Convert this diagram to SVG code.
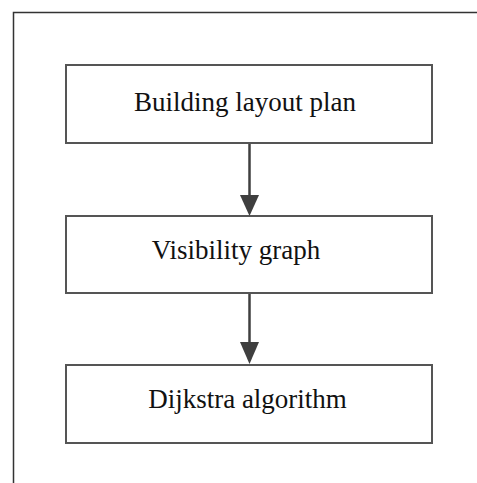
<svg xmlns="http://www.w3.org/2000/svg" width="477" height="483" viewBox="0 0 477 483">
<style>
.box{fill:#fff;stroke:#555;stroke-width:2}
.lbl{font-family:"Liberation Serif","Times New Roman",serif;font-size:27px;fill:#111;text-anchor:middle}
.conn{stroke:#3f3f3f;stroke-width:2.5;fill:none}
.head{fill:#3f3f3f}
</style>
<rect x="0" y="0" width="477" height="483" fill="#fff"/>
<path d="M13.5,483 V12.5 H477" fill="none" stroke="#333" stroke-width="1.5"/>
<g id="n1">
<rect class="box" x="66" y="65" width="366" height="78"/>
<text class="lbl" x="245" y="111">Building layout plan</text>
</g>
<g id="n2">
<rect class="box" x="66" y="216" width="366" height="77"/>
<text class="lbl" x="236" y="259">Visibility graph</text>
</g>
<g id="n3">
<rect class="box" x="66" y="365" width="366" height="78"/>
<text class="lbl" x="247.5" y="408">Dijkstra algorithm</text>
</g>
<g id="connectors">
<line class="conn" x1="249.5" y1="144" x2="249.5" y2="198"/>
<path class="head" d="M240,195 L259,195 L249.5,216 Z"/>
<line class="conn" x1="249.5" y1="294" x2="249.5" y2="344"/>
<path class="head" d="M240,342 L259,342 L249.5,364 Z"/>
</g>
</svg>
